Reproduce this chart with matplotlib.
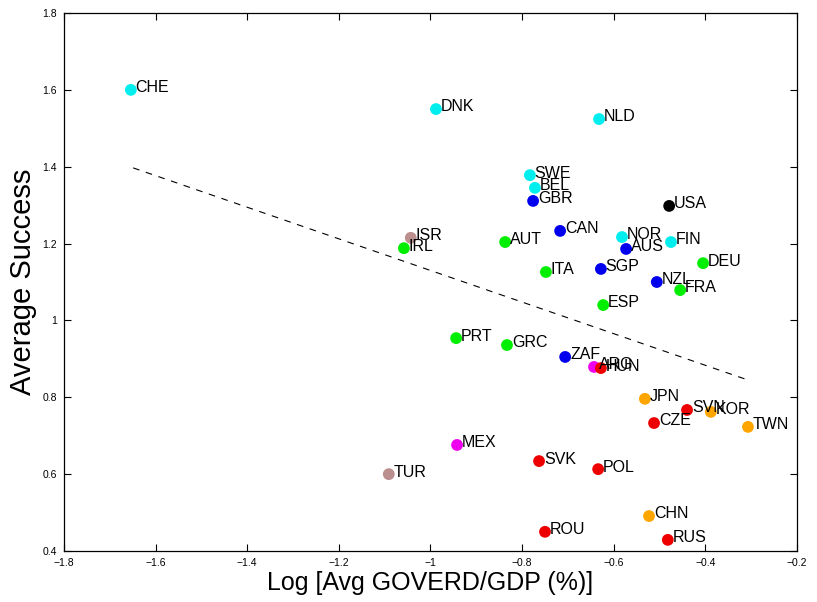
import matplotlib
matplotlib.use("Agg")
import matplotlib.pyplot as plt

plt.rcParams['font.family'] = ['Liberation Sans', 'DejaVu Sans']

countries = ["CHE", "DNK", "NLD", "SWE", "BEL", "GBR", "USA", "CAN", "ISR", "IRL",
             "AUT", "NOR", "AUS", "FIN", "DEU", "ITA", "SGP", "NZL", "FRA", "ESP",
             "PRT", "GRC", "ZAF", "ARG", "HUN", "JPN", "SVN", "KOR", "TWN", "CZE",
             "MEX", "TUR", "SVK", "POL", "CHN", "ROU", "RUS"]
log_goverd = [-1.654, -0.988, -0.632, -0.783, -0.772, -0.776, -0.479, -0.717, -1.043, -1.058,
              -0.837, -0.582, -0.573, -0.475, -0.405, -0.748, -0.628, -0.506, -0.455, -0.623,
              -0.944, -0.833, -0.706, -0.643, -0.628, -0.532, -0.440, -0.388, -0.307, -0.512,
              -0.942, -1.091, -0.763, -0.634, -0.523, -0.750, -0.482]
avg_success = [1.600, 1.550, 1.524, 1.378, 1.345, 1.311, 1.298, 1.233, 1.215, 1.188,
               1.204, 1.217, 1.186, 1.204, 1.149, 1.126, 1.134, 1.100, 1.079, 1.040,
               0.954, 0.936, 0.905, 0.879, 0.876, 0.796, 0.767, 0.762, 0.723, 0.733,
               0.676, 0.600, 0.634, 0.613, 0.491, 0.450, 0.429]
groups = ["cyan", "cyan", "cyan", "cyan", "cyan", "blue", "black", "blue", "brown", "green",
          "green", "cyan", "blue", "cyan", "green", "green", "blue", "blue", "green", "green",
          "green", "green", "blue", "magenta", "red", "orange", "red", "orange", "orange", "red",
          "magenta", "brown", "red", "red", "orange", "red", "red"]
group_colors = {"cyan": "#00eeee", "blue": "#0000ee", "black": "#000000", "brown": "#bc8f8f",
                "green": "#00ee00", "magenta": "#ee00ee", "red": "#ee0000", "orange": "#ffa500"}

fit_x = [-1.649, -0.307]
fit_y = [1.397, 0.845]

x_ticks = [-1.8, -1.6, -1.4, -1.2, -1.0, -0.8, -0.6, -0.4, -0.2]
x_tick_labels = ["\u22121.8", "\u22121.6", "\u22121.4", "\u22121.2", "\u22121", "\u22120.8", "\u22120.6", "\u22120.4", "\u22120.2"]
y_ticks = [0.4, 0.6, 0.8, 1.0, 1.2, 1.4, 1.6, 1.8]
y_tick_labels = ["0.4", "0.6", "0.8", "1", "1.2", "1.4", "1.6", "1.8"]

fig = plt.figure(figsize=(8.17, 6.02), dpi=100)
ax = fig.add_axes([0.0783, 0.0847, 0.8972, 0.8937])

ax.plot(fit_x, fit_y, linestyle=(0, (6, 6)), color="black", linewidth=0.8, zorder=1)

for c, x, y, g in zip(countries, log_goverd, avg_success, groups):
    ax.scatter([x], [y], s=72, color=group_colors[g], edgecolors='none', zorder=3)
    ax.annotate(c, (x, y), xytext=(3.5, 1.5), textcoords='offset points',
                fontsize=11.5, va='center', ha='left', color='black', zorder=4)

ax.set_xlim(-1.8, -0.2)
ax.set_ylim(0.4, 1.8)
ax.set_xticks(x_ticks)
ax.set_xticklabels(x_tick_labels)
ax.set_yticks(y_ticks)
ax.set_yticklabels(y_tick_labels)
ax.tick_params(direction='in', length=5, width=0.8, labelsize=7.5, top=True, right=True, pad=5)
for sp in ax.spines.values():
    sp.set_linewidth(0.9)

ax.set_xlabel("Log [Avg GOVERD/GDP (%)]", fontsize=18, labelpad=2)
ax.set_ylabel("Average Success", fontsize=21, labelpad=4)

fig.savefig("out.png", dpi=100)
